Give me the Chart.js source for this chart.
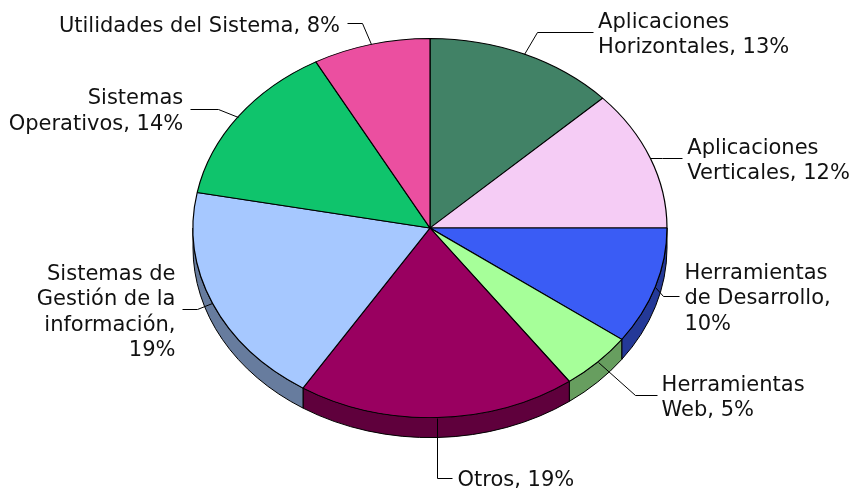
<!DOCTYPE html>
<html>
<head>
<meta charset="utf-8">
<script src="https://cdn.jsdelivr.net/npm/chart.js@4/dist/chart.umd.min.js"></script>
<style>
  html, body { margin: 0; padding: 0; background: #fff; }
</style>
</head>
<body>
<canvas id="pieChart" width="849" height="494"></canvas>
<script>
// Data
const categories = ['Aplicaciones Horizontales', 'Aplicaciones Verticales', 'Herramientas de Desarrollo',
    'Herramientas Web', 'Otros', 'Sistemas de Gestión de la información', 'Sistemas Operativos',
    'Utilidades del Sistema'];
const shares = [13, 12, 10, 5, 19, 19, 14, 8];
const labelLines = [
    ['Aplicaciones', 'Horizontales, {p}'],
    ['Aplicaciones', 'Verticales, {p}'],
    ['Herramientas', 'de Desarrollo,', '{p}'],
    ['Herramientas', 'Web, {p}'],
    ['Otros, {p}'],
    ['Sistemas de', 'Gestión de la', 'información,', '{p}'],
    ['Sistemas', 'Operativos, {p}'],
    ['Utilidades del Sistema, {p}']
];
const sliceColors = ['#418266', '#F5CCF5', '#3A5CF5', '#A6FF99', '#990060', '#A6C8FF', '#0FC46C', '#EB4FA0'];

// leader line: bend offset from the slice edge, then horizontal arm
const leaderBend = [[13, -22], [12, 0], [8, 9], [37, 33], [0, 60], [-15, 6], [-20, -8], [-9, -21]];
const leaderArm = [56, 20, 16, 22, 15, 15, 28, 15];

const tilt = 0.8;   // vertical squash of the top face
const depth = 20;   // thickness of the pie

function shade(hex, f) {
    const n = parseInt(hex.slice(1), 16);
    const r = Math.round(((n >> 16) & 255) * f);
    const g = Math.round(((n >> 8) & 255) * f);
    const b = Math.round((n & 255) * f);
    return `rgb(${r},${g},${b})`;
}

const pie3d = {
    id: 'pie3d',
    beforeDatasetsDraw(chart) {
        const ctx = chart.ctx;
        const arcs = chart.getDatasetMeta(0).data;
        // front wall of the pie
        ctx.save();
        arcs.forEach((arc, i) => {
            const a1 = Math.max(arc.startAngle, 0);
            const a2 = Math.min(arc.endAngle, Math.PI);
            if (a2 <= a1) return;
            const rx = arc.outerRadius, ry = rx * tilt;
            ctx.beginPath();
            ctx.ellipse(arc.x, arc.y, rx, ry, 0, a1, a2);
            ctx.ellipse(arc.x, arc.y + depth, rx, ry, 0, a2, a1, true);
            ctx.closePath();
            ctx.fillStyle = shade(sliceColors[i], 0.62);
            ctx.fill();
            ctx.strokeStyle = '#000';
            ctx.lineWidth = 1;
            ctx.stroke();
        });
        ctx.restore();
        // squash the top face
        const c = arcs[0];
        ctx.save();
        ctx.translate(c.x, c.y);
        ctx.scale(1, tilt);
        ctx.translate(-c.x, -c.y);
    },
    afterDatasetsDraw(chart) {
        const ctx = chart.ctx;
        ctx.restore();
        const arcs = chart.getDatasetMeta(0).data;
        ctx.save();
        ctx.strokeStyle = '#000';
        ctx.lineWidth = 1;
        ctx.fillStyle = '#111';
        ctx.font = '21px "DejaVu Sans"';
        ctx.textBaseline = 'middle';
        arcs.forEach((arc, i) => {
            const mid = (arc.startAngle + arc.endAngle) / 2;
            const rx = arc.outerRadius, ry = rx * tilt;
            const ex = arc.x + rx * Math.cos(mid);
            const ey = arc.y + ry * Math.sin(mid);
            const bx = ex + leaderBend[i][0];
            const by = ey + leaderBend[i][1];
            const right = Math.cos(mid) >= 0;
            const tx = bx + (right ? 1 : -1) * leaderArm[i];
            ctx.beginPath();
            ctx.moveTo(Math.round(ex) + 0.5, Math.round(ey) + 0.5);
            ctx.lineTo(Math.round(bx) + 0.5, Math.round(by) + 0.5);
            ctx.lineTo(Math.round(tx) + 0.5, Math.round(by) + 0.5);
            ctx.stroke();

            const lines = labelLines[i].map(s => s.replace('{p}', shares[i] + '%'));
            ctx.textAlign = right ? 'left' : 'right';
            const x = tx + (right ? 5 : -7);
            lines.forEach((s, k) => {
                ctx.fillText(s, x, by + 3 + (k - (lines.length - 1) / 2) * 25.5);
            });
        });
        ctx.restore();
    }
};

const ctx = document.getElementById('pieChart').getContext('2d');
const pieChart = new Chart(ctx, {
    type: 'pie',
    data: {
        labels: categories,
        datasets: [{
            data: shares,
            backgroundColor: sliceColors,
            borderColor: '#000',
            borderWidth: 1.2,
            radius: 237,
            hoverOffset: 0,
            clip: false
        }]
    },
    options: {
        responsive: false,
        animation: false,
        events: [],
        layout: {
            padding: { left: 193, right: 182, top: 0, bottom: 38 }
        },
        plugins: {
            legend: { display: false },
            tooltip: { enabled: false }
        }
    },
    plugins: [pie3d]
});
</script>
</body>
</html>
